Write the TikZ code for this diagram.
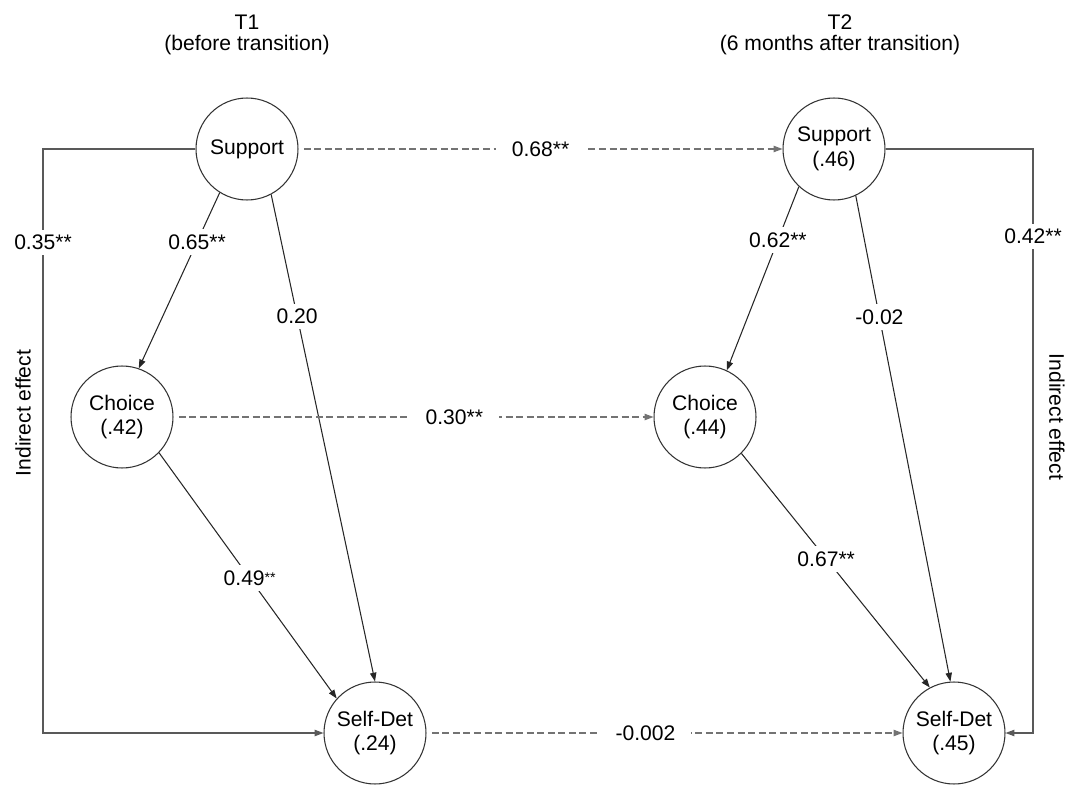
\documentclass[tikz,border=0pt]{standalone}
\usepackage{fontspec}
\setmainfont{Liberation Sans}
\usetikzlibrary{arrows.meta}

\begin{document}
\begin{tikzpicture}[x=0.02cm,y=-0.02cm,line width=0.6pt,>={Triangle[length=5pt,width=3.6pt]},
  font=\fontsize{12}{14}\selectfont,
  latent/.style={circle,draw=black!80,minimum size=2.04cm,inner sep=0pt,align=center},
  regr/.style={->,draw=black!85},
  stab/.style={->,draw=black!55,dash pattern=on 4pt off 2pt,shorten <=3pt},
  bracket/.style={->,draw=black!65},
  coef/.style={fill=white,inner sep=3pt}]
  \useasboundingbox (0,0) rectangle (1072,787);

  % waves
  \node (t1) at (247,22) {T1};
  \node (t1b) at (247,45) {(before transition)};
  \node (t2) at (840,22) {T2};
  \node (t2b) at (840,45) {(6 months after transition)};

  % T1
  \node[latent] (sup1) at (247,149) {Support};
  \node[latent] (ch1) at (122,417) {Choice\\(.42)};
  \node[latent] (sd1) at (375,733) {Self-Det\\(.24)};

  % T2
  \node[latent] (sup2) at (834,149) {Support\\(.46)};
  \node[latent] (ch2) at (705,417) {Choice\\(.44)};
  \node[latent] (sd2) at (954,733) {Self-Det\\(.45)};

  % paths within T1
  \draw[regr] (sup1.-122) -- node[coef,pos=0.28] {0.65**} (ch1.71);
  \draw[regr] (sup1.-62) -- node[coef,pos=0.25] {0.20} (sd1.north);
  \draw[regr] (ch1.-44) -- node[coef,pos=0.51] {0.49\raisebox{0.3ex}{\footnotesize**}} (sd1.138);

  % paths within T2
  \draw[regr] (sup2.-133) -- node[coef,pos=0.29] {0.62**} (ch2.65);
  \draw[regr] (sup2.-65) -- node[coef,pos=0.25] {-0.02} (sd2.94);
  \draw[regr] (ch2.-45) -- node[coef,pos=0.45] {0.67**} (sd2.118);

  % stability paths
  \draw[stab] (sup1) -- node[coef,inner sep=9pt,pos=0.5] {0.68**} (sup2);
  \draw[stab] (ch1) -- node[coef,inner sep=9pt,pos=0.585] {0.30**} (ch2);
  \draw[stab] (sd1) -- node[coef,inner sep=9pt,pos=0.46] {-0.002} (sd2);

  % indirect effects
  \coordinate (lt) at (43,149);
  \coordinate (lb) at (43,733);
  \draw[bracket] (sup1.west) -- (lt) -- node[coef,pos=0.16] {0.35**} (lb) -- (sd1.west);
  \node[rotate=90] (ind1) at (23,413) {Indirect effect};

  \coordinate (rt) at (1033,149);
  \coordinate (rb) at (1033,733);
  \draw[bracket] (sup2.east) -- (rt) -- node[coef,pos=0.15] {0.42**} (rb) -- (sd2.east);
  \node[rotate=-90] (ind2) at (1057,417) {Indirect effect};
\end{tikzpicture}
\end{document}
